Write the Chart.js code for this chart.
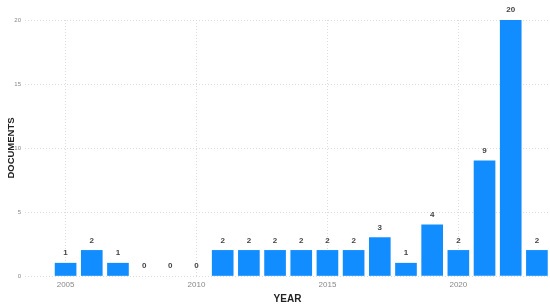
<!DOCTYPE html>
<html>
<head>
<meta charset="utf-8">
<script src="https://cdn.jsdelivr.net/npm/chart.js@4"></script>
<style>
  html, body { margin: 0; padding: 0; background: #fff; }
  #wrap { width: 550px; height: 305px; }
</style>
</head>
<body>
<div id="wrap"><canvas id="docChart" width="550" height="305"></canvas></div>
<script>
// data
const years = [2005, 2006, 2007, 2008, 2009, 2010, 2011, 2012, 2013, 2014, 2015, 2016, 2017, 2018, 2019, 2020, 2021, 2022, 2023];
const documents = [1, 2, 1, 0, 0, 0, 2, 2, 2, 2, 2, 2, 3, 1, 4, 2, 9, 20, 2];
const yearTicks = [2005, 2010, 2015, 2020];
const docTicks = [0, 5, 10, 15, 20];

const barBlue = '#118DFF';
const gridColor = '#dcdcdc';

// value labels above each bar
const valueLabels = {
    id: 'valueLabels',
    afterDatasetsDraw(chart) {
        const ctx = chart.ctx;
        const meta = chart.getDatasetMeta(0);
        ctx.save();
        ctx.font = 'bold 8px "Liberation Sans", Arial, sans-serif';
        ctx.fillStyle = '#444';
        ctx.textAlign = 'center';
        ctx.textBaseline = 'bottom';
        meta.data.forEach((bar, i) => {
            ctx.fillText(String(documents[i]), bar.x, bar.y - 6);
        });
        ctx.restore();
    }
};

const ctx = document.getElementById('docChart').getContext('2d');
new Chart(ctx, {
    type: 'bar',
    data: {
        datasets: [{
            data: years.map((y, i) => ({ x: y, y: documents[i] })),
            // zero values leave no visible sliver
            backgroundColor: c => (c.raw && c.raw.y === 0 ? 'rgba(0,0,0,0)' : barBlue),
            borderWidth: 0,
            barThickness: 21
        }]
    },
    options: {
        responsive: false,
        animation: false,
        layout: { padding: { top: 20, right: 0, left: 0, bottom: 0 } },
        plugins: {
            legend: { display: false },
            tooltip: { enabled: false }
        },
        scales: {
            x: {
                type: 'linear',
                offset: false,
                min: 2003.45,
                max: 2023.5,
                afterBuildTicks: scale => { scale.ticks = yearTicks.map(v => ({ value: v })); },
                afterFit: scale => { scale.height = 29; },
                border: { display: false, dash: [1, 2] },
                grid: { color: gridColor, drawTicks: false, offset: false, lineWidth: 1 },
                ticks: {
                    padding: 4,
                    color: '#888',
                    font: { family: '"Liberation Sans", Arial, sans-serif', size: 8 },
                    callback: v => String(v)
                },
                title: {
                    display: true,
                    text: 'YEAR',
                    color: '#222',
                    padding: { top: 2, bottom: 0 },
                    font: { family: '"Liberation Sans", Arial, sans-serif', size: 10, weight: 'bold' }
                }
            },
            y: {
                min: 0,
                max: 20,
                afterBuildTicks: scale => { scale.ticks = docTicks.map(v => ({ value: v })); },
                afterFit: scale => { scale.width = 25; },
                border: { display: false, dash: [1, 2] },
                grid: { color: gridColor, drawTicks: false, lineWidth: 1 },
                ticks: {
                    padding: 4,
                    color: '#888',
                    font: { family: '"Liberation Sans", Arial, sans-serif', size: 6 }
                },
                title: {
                    display: true,
                    text: 'DOCUMENTS',
                    color: '#222',
                    padding: { top: 6, bottom: 0 },
                    font: { family: '"Liberation Sans", Arial, sans-serif', size: 9.5, weight: 'bold' }
                }
            }
        }
    },
    plugins: [valueLabels]
});
</script>
</body>
</html>
